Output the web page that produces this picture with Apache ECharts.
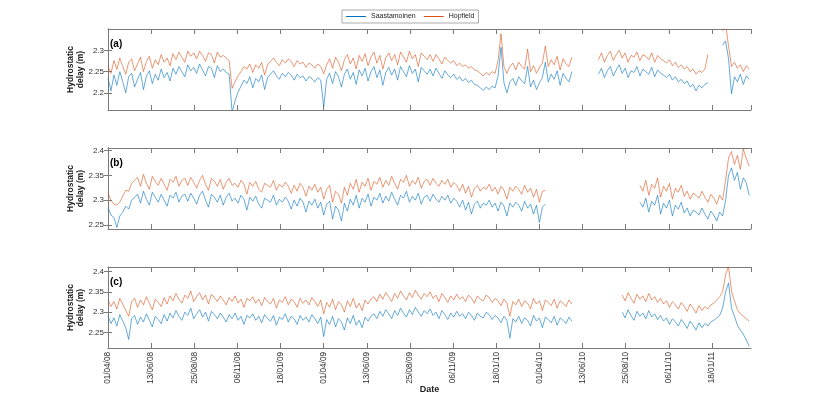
<!DOCTYPE html>
<html>
<head>
<meta charset="utf-8">
<script src="https://cdn.jsdelivr.net/npm/echarts@6/dist/echarts.min.js"></script>
<style>
  html, body { margin: 0; padding: 0; background: #fff; }
  #delayChart { width: 830px; height: 396px; }
</style>
</head>
<body>
<div id="delayChart"></div>
<script>
// one sample every STEP days, starting 01/04/08
const STEP = 5
const DAY_MAX = 1088
const TICK_DAYS = 73

const xTickLabels = ['01/04/08', '13/06/08', '25/08/08', '06/11/08', '18/01/09', '01/04/09', '13/06/09',
  '25/08/09', '06/11/09', '18/01/10', '01/04/10', '13/06/10', '25/08/10', '06/11/10', '18/01/11']
const yTicksA = [2.2, 2.25, 2.3]
const yTicksB = [2.25, 2.3, 2.35, 2.4]
const yTicksC = [2.25, 2.3, 2.35, 2.4]
const panelLabels = ['(a)', '(b)', '(c)']
const seriesNames = ['Saastamoinen', 'Hopfield']

// panel (a)
const saastA = [
  2.235, 2.205, 2.242, 2.218, 2.250, 2.226, 2.200, 2.238, 2.246, 2.214,
  2.232, 2.248, 2.208, 2.240, 2.252, 2.222, 2.244, 2.230, 2.256, 2.236,
  2.248, 2.228, 2.258, 2.244, 2.262, 2.250, 2.238, 2.266, 2.252, 2.260,
  2.246, 2.268, 2.254, 2.240, 2.262, 2.258, 2.236, 2.264, 2.250, 2.256,
  2.248, 2.244, 2.155, 2.182, 2.202, 2.216, 2.230, 2.222, 2.238, 2.212,
  2.234, 2.226, 2.242, 2.208, 2.236, 2.244, 2.252, 2.240, 2.232, 2.246,
  2.238, 2.248, 2.242, 2.230, 2.244, 2.236, 2.240, 2.228, 2.238, 2.234,
  2.226, 2.236, 2.230, 2.168, 2.232, 2.246, 2.222, 2.250, 2.238, 2.214,
  2.244, 2.256, 2.232, 2.248, 2.220, 2.254, 2.240, 2.258, 2.228, 2.250,
  2.262, 2.236, 2.254, 2.218, 2.248, 2.260, 2.242, 2.256, 2.230, 2.262,
  2.250, 2.238, 2.264, 2.246, 2.256, 2.226, 2.260, 2.252, 2.244, 2.256,
  2.240, 2.258, 2.246, 2.234, 2.252, 2.242, 2.236, 2.244, 2.232, 2.238,
  2.228, 2.234, 2.224, 2.230, 2.220, 2.218, 2.212, 2.206, 2.214, 2.208,
  2.216, 2.212, 2.240, 2.307, 2.224, 2.200, 2.226, 2.234, 2.218, 2.238,
  2.228, 2.222, 2.262, 2.214, 2.230, 2.208, 2.224, 2.236, 2.272, 2.226,
  2.244, 2.232, 2.252, 2.218, 2.246, 2.234, 2.226, 2.250, null, null,
  null, null, null, null, null, null, 2.244, 2.258, 2.236, 2.252,
  2.262, 2.240, 2.254, 2.266, 2.246, 2.258, 2.236, 2.252, 2.248, 2.262,
  2.240, 2.256, 2.250, 2.244, 2.260, 2.238, 2.254, 2.246, 2.242, 2.236,
  2.244, 2.230, 2.238, 2.226, 2.232, 2.222, 2.228, 2.214, 2.220, 2.205,
  2.218, 2.212, 2.220, 2.224, null, null, null, null, 2.312, 2.322,
  2.280, 2.198, 2.238, 2.226, 2.244, 2.220, 2.240, 2.232
]
const hopfA = [
  2.262, 2.246, 2.276, 2.255, 2.282, 2.262, 2.244, 2.272, 2.280, 2.252,
  2.268, 2.284, 2.250, 2.274, 2.286, 2.258, 2.278, 2.266, 2.290, 2.272,
  2.282, 2.264, 2.292, 2.278, 2.296, 2.284, 2.272, 2.298, 2.286, 2.294,
  2.280, 2.298, 2.288, 2.274, 2.294, 2.290, 2.270, 2.296, 2.284, 2.288,
  2.282, 2.276, 2.211, 2.226, 2.240, 2.250, 2.262, 2.256, 2.268, 2.248,
  2.266, 2.258, 2.272, 2.242, 2.266, 2.274, 2.282, 2.272, 2.264, 2.278,
  2.270, 2.280, 2.274, 2.262, 2.276, 2.268, 2.272, 2.260, 2.270, 2.266,
  2.258, 2.268, 2.262, 2.245, 2.266, 2.280, 2.258, 2.284, 2.272, 2.252,
  2.278, 2.290, 2.268, 2.282, 2.256, 2.288, 2.274, 2.292, 2.264, 2.284,
  2.296, 2.270, 2.288, 2.256, 2.282, 2.294, 2.276, 2.290, 2.266, 2.296,
  2.284, 2.272, 2.298, 2.280, 2.290, 2.262, 2.294, 2.286, 2.278, 2.290,
  2.274, 2.290, 2.280, 2.268, 2.284, 2.276, 2.270, 2.276, 2.264, 2.270,
  2.262, 2.266, 2.258, 2.262, 2.254, 2.252, 2.246, 2.240, 2.248, 2.242,
  2.250, 2.246, 2.276, 2.339, 2.262, 2.246, 2.262, 2.270, 2.254, 2.272,
  2.262, 2.256, 2.303, 2.250, 2.264, 2.246, 2.260, 2.270, 2.310, 2.262,
  2.278, 2.266, 2.286, 2.254, 2.280, 2.268, 2.262, 2.284, null, null,
  null, null, null, null, null, null, 2.278, 2.294, 2.272, 2.288,
  2.298, 2.276, 2.290, 2.300, 2.282, 2.294, 2.272, 2.288, 2.284, 2.296,
  2.276, 2.290, 2.286, 2.278, 2.294, 2.272, 2.288, 2.280, 2.276, 2.270,
  2.278, 2.264, 2.272, 2.260, 2.266, 2.256, 2.262, 2.250, 2.256, 2.244,
  2.252, 2.248, 2.256, 2.290, null, null, null, null, 2.345, 2.362,
  2.310, 2.262, 2.272, 2.258, 2.266, 2.250, 2.264, 2.256
]

// panel (b)
const saastB = [
  2.285, 2.270, 2.265, 2.245, 2.268, 2.276, 2.288, 2.282, 2.300, 2.306,
  2.312, 2.294, 2.318, 2.302, 2.290, 2.316, 2.306, 2.296, 2.312, 2.300,
  2.288, 2.310, 2.304, 2.316, 2.296, 2.308, 2.312, 2.298, 2.314, 2.304,
  2.292, 2.310, 2.318, 2.300, 2.286, 2.312, 2.306, 2.296, 2.310, 2.290,
  2.306, 2.314, 2.298, 2.304, 2.294, 2.310, 2.302, 2.280, 2.306, 2.298,
  2.308, 2.292, 2.284, 2.304, 2.300, 2.296, 2.310, 2.290, 2.302, 2.296,
  2.306, 2.298, 2.282, 2.300, 2.288, 2.304, 2.296, 2.276, 2.298, 2.290,
  2.302, 2.284, 2.296, 2.270, 2.292, 2.298, 2.262, 2.288, 2.280, 2.258,
  2.294, 2.278, 2.302, 2.290, 2.310, 2.284, 2.304, 2.296, 2.312, 2.288,
  2.306, 2.300, 2.314, 2.294, 2.308, 2.298, 2.316, 2.302, 2.290, 2.310,
  2.304, 2.318, 2.296, 2.308, 2.300, 2.314, 2.292, 2.306, 2.310, 2.298,
  2.312, 2.302, 2.296, 2.308, 2.300, 2.310, 2.294, 2.304, 2.298, 2.286,
  2.300, 2.280, 2.296, 2.272, 2.292, 2.298, 2.284, 2.294, 2.290, 2.300,
  2.286, 2.294, 2.278, 2.296, 2.288, 2.268, 2.294, 2.286, 2.296, 2.290,
  2.278, 2.298, 2.284, 2.292, 2.272, 2.290, 2.255, 2.286, 2.292, null,
  null, null, null, null, null, null, null, null, null, null,
  null, null, null, null, null, null, null, null, null, null,
  null, null, null, null, null, null, null, null, null, null,
  2.296, 2.286, 2.304, 2.276, 2.298, 2.290, 2.310, 2.272, 2.294, 2.284,
  2.300, 2.268, 2.290, 2.282, 2.296, 2.274, 2.284, 2.268, 2.280, 2.276,
  2.270, 2.284, 2.272, 2.262, 2.278, 2.270, 2.258, 2.276, 2.268, 2.300,
  2.350, 2.365, 2.340, 2.356, 2.322, 2.345, 2.335, 2.310
]
const hopfB = [
  2.315, 2.300, 2.292, 2.290, 2.296, 2.308, 2.320, 2.318, 2.334, 2.340,
  2.346, 2.328, 2.352, 2.334, 2.322, 2.348, 2.338, 2.330, 2.344, 2.332,
  2.320, 2.342, 2.336, 2.348, 2.328, 2.340, 2.344, 2.330, 2.346, 2.336,
  2.324, 2.340, 2.350, 2.332, 2.320, 2.344, 2.338, 2.328, 2.342, 2.322,
  2.336, 2.344, 2.330, 2.334, 2.326, 2.340, 2.332, 2.312, 2.336, 2.328,
  2.338, 2.322, 2.316, 2.334, 2.330, 2.326, 2.340, 2.320, 2.332, 2.326,
  2.336, 2.328, 2.314, 2.330, 2.318, 2.334, 2.326, 2.308, 2.328, 2.320,
  2.332, 2.316, 2.326, 2.302, 2.322, 2.330, 2.296, 2.318, 2.312, 2.294,
  2.326, 2.310, 2.334, 2.322, 2.342, 2.316, 2.336, 2.328, 2.344, 2.320,
  2.338, 2.332, 2.346, 2.326, 2.340, 2.330, 2.348, 2.334, 2.322, 2.342,
  2.336, 2.350, 2.328, 2.340, 2.332, 2.346, 2.324, 2.338, 2.342, 2.330,
  2.344, 2.334, 2.328, 2.340, 2.332, 2.342, 2.326, 2.336, 2.330, 2.318,
  2.332, 2.314, 2.328, 2.306, 2.324, 2.330, 2.318, 2.326, 2.322, 2.332,
  2.318, 2.326, 2.312, 2.328, 2.320, 2.302, 2.326, 2.318, 2.328, 2.322,
  2.312, 2.330, 2.316, 2.324, 2.306, 2.322, 2.296, 2.318, 2.320, null,
  null, null, null, null, null, null, null, null, null, null,
  null, null, null, null, null, null, null, null, null, null,
  null, null, null, null, null, null, null, null, null, null,
  2.330, 2.318, 2.340, 2.310, 2.332, 2.324, 2.345, 2.306, 2.328, 2.318,
  2.334, 2.302, 2.324, 2.316, 2.330, 2.308, 2.318, 2.302, 2.314, 2.310,
  2.304, 2.318, 2.306, 2.296, 2.312, 2.304, 2.292, 2.310, 2.300, 2.340,
  2.385, 2.398, 2.372, 2.390, 2.362, 2.403, 2.384, 2.368
]

// panel (c)
const saastC = [
  2.290, 2.272, 2.286, 2.266, 2.294, 2.278, 2.262, 2.233, 2.284, 2.292,
  2.270, 2.288, 2.276, 2.296, 2.280, 2.264, 2.290, 2.282, 2.272, 2.294,
  2.278, 2.298, 2.286, 2.304, 2.290, 2.280, 2.300, 2.292, 2.310, 2.284,
  2.296, 2.306, 2.288, 2.300, 2.278, 2.302, 2.294, 2.284, 2.298, 2.288,
  2.276, 2.294, 2.284, 2.298, 2.280, 2.290, 2.270, 2.292, 2.286, 2.296,
  2.280, 2.290, 2.274, 2.294, 2.284, 2.278, 2.292, 2.268, 2.288, 2.282,
  2.296, 2.276, 2.290, 2.284, 2.270, 2.292, 2.280, 2.288, 2.276, 2.294,
  2.284, 2.272, 2.288, 2.240, 2.282, 2.270, 2.290, 2.264, 2.284, 2.276,
  2.256, 2.286, 2.272, 2.292, 2.268, 2.280, 2.262, 2.288, 2.278, 2.290,
  2.296, 2.284, 2.302, 2.290, 2.306, 2.296, 2.284, 2.304, 2.292, 2.310,
  2.298, 2.288, 2.306, 2.294, 2.312, 2.300, 2.290, 2.304, 2.296, 2.308,
  2.292, 2.300, 2.284, 2.304, 2.294, 2.282, 2.298, 2.288, 2.302, 2.290,
  2.296, 2.284, 2.300, 2.292, 2.280, 2.298, 2.290, 2.286, 2.300, 2.294,
  2.282, 2.292, 2.286, 2.274, 2.290, 2.280, 2.236, 2.284, 2.276, 2.290,
  2.272, 2.286, 2.280, 2.266, 2.292, 2.278, 2.286, 2.262, 2.288, 2.282,
  2.274, 2.290, 2.268, 2.286, 2.280, 2.272, 2.288, 2.278, null, null,
  null, null, null, null, null, null, null, null, null, null,
  null, null, null, null, 2.300, 2.286, 2.306, 2.292, 2.280, 2.302,
  2.290, 2.298, 2.284, 2.304, 2.288, 2.296, 2.282, 2.292, 2.278, 2.286,
  2.270, 2.284, 2.276, 2.266, 2.282, 2.272, 2.260, 2.278, 2.268, 2.256,
  2.274, 2.262, 2.272, 2.266, 2.276, 2.280, 2.286, 2.292, 2.310, 2.350,
  2.372, 2.310, 2.290, 2.268, 2.256, 2.246, 2.232, 2.216
]
const hopfC = [
  2.330, 2.314, 2.326, 2.308, 2.334, 2.320, 2.304, 2.290, 2.326, 2.334,
  2.312, 2.330, 2.318, 2.338, 2.322, 2.306, 2.332, 2.324, 2.314, 2.336,
  2.320, 2.340, 2.328, 2.346, 2.332, 2.322, 2.342, 2.334, 2.352, 2.326,
  2.338, 2.348, 2.330, 2.342, 2.320, 2.344, 2.336, 2.326, 2.340, 2.330,
  2.318, 2.336, 2.326, 2.340, 2.322, 2.332, 2.312, 2.334, 2.328, 2.338,
  2.322, 2.332, 2.316, 2.336, 2.326, 2.320, 2.334, 2.310, 2.330, 2.324,
  2.338, 2.318, 2.332, 2.326, 2.312, 2.334, 2.322, 2.330, 2.318, 2.336,
  2.326, 2.314, 2.330, 2.296, 2.324, 2.312, 2.332, 2.306, 2.326, 2.318,
  2.300, 2.328, 2.314, 2.334, 2.310, 2.322, 2.304, 2.330, 2.320, 2.332,
  2.338, 2.326, 2.344, 2.332, 2.348, 2.338, 2.326, 2.346, 2.334, 2.352,
  2.340, 2.330, 2.348, 2.336, 2.354, 2.342, 2.332, 2.346, 2.338, 2.350,
  2.334, 2.342, 2.326, 2.346, 2.336, 2.324, 2.340, 2.330, 2.344, 2.332,
  2.338, 2.326, 2.342, 2.334, 2.322, 2.340, 2.332, 2.328, 2.342, 2.336,
  2.324, 2.334, 2.328, 2.316, 2.332, 2.322, 2.290, 2.326, 2.318, 2.332,
  2.314, 2.328, 2.322, 2.308, 2.334, 2.320, 2.328, 2.304, 2.330, 2.324,
  2.316, 2.332, 2.310, 2.328, 2.322, 2.314, 2.330, 2.320, null, null,
  null, null, null, null, null, null, null, null, null, null,
  null, null, null, null, 2.342, 2.328, 2.348, 2.334, 2.322, 2.344,
  2.332, 2.340, 2.326, 2.346, 2.330, 2.338, 2.324, 2.334, 2.320, 2.328,
  2.312, 2.326, 2.318, 2.308, 2.324, 2.314, 2.302, 2.320, 2.310, 2.298,
  2.316, 2.304, 2.314, 2.308, 2.318, 2.322, 2.330, 2.338, 2.350, 2.392,
  2.412, 2.352, 2.328, 2.306, 2.296, 2.290, 2.284, 2.278
]

const yRanges = [[2.16, 2.35], [2.242, 2.405], [2.212, 2.411]]
const yTicks = [yTicksA, yTicksB, yTicksC]
const gridTops = [29, 148, 267]
const BLUE = '#0072BD'
const ORANGE = '#D95319'
const AXIS_GRAY = '#7a7a7a'

function toPoints (arr) {
  return arr.map((v, i) => [i * STEP, v])
}

let grids = []
let xAxes = []
let yAxes = []
let graphics = []
const panels = [[saastA, hopfA], [saastB, hopfB], [saastC, hopfC]]
let series = []

panels.forEach((pair, p) => {
  grids.push({ left: 108, right: 79, top: gridTops[p], height: 81 })
  const isLast = p === panels.length - 1
  const xBase = {
    type: 'value', gridIndex: p, min: 0, max: DAY_MAX, interval: TICK_DAYS,
    axisLine: { show: true, lineStyle: { color: AXIS_GRAY, width: 1 } },
    axisTick: { show: true, inside: true, length: 5, lineStyle: { color: AXIS_GRAY } },
    splitLine: { show: false }
  }
  xAxes.push(Object.assign({}, xBase, {
    position: 'bottom',
    name: isLast ? 'Date' : '',
    nameLocation: 'middle',
    nameGap: 37,
    nameMoveOverlap: false,
    nameTextStyle: { fontWeight: 'bold', fontSize: 9, color: '#222' },
    axisLabel: {
      show: isLast, rotate: 90, fontSize: 8.2, color: '#333', margin: 4,
      showMaxLabel: false,
      formatter: v => xTickLabels[Math.round(v / TICK_DAYS)] || ''
    }
  }))
  xAxes.push(Object.assign({}, xBase, { position: 'top', axisLabel: { show: false } }))

  const yBase = {
    type: 'value', gridIndex: p, min: yRanges[p][0], max: yRanges[p][1],
    axisLine: { show: true, lineStyle: { color: AXIS_GRAY, width: 1 } },
    axisTick: { show: true, inside: true, length: 4, customValues: yTicks[p], lineStyle: { color: AXIS_GRAY } },
    splitLine: { show: false }
  }
  yAxes.push(Object.assign({}, yBase, {
    position: 'left',
    name: 'Hydrostatic\ndelay (m)',
    nameLocation: 'middle',
    nameGap: 22,
    nameMoveOverlap: false,
    nameTextStyle: { fontWeight: 'bold', fontSize: 8.5, color: '#222', lineHeight: 10 },
    axisLabel: { fontSize: 8, color: '#333', margin: 4, customValues: yTicks[p] }
  }))
  yAxes.push(Object.assign({}, yBase, { position: 'right', axisLabel: { show: false } }))

  const colors = [BLUE, ORANGE]
  pair.forEach((arr, k) => {
    series.push({
      name: seriesNames[k],
      type: 'line',
      xAxisIndex: 2 * p,
      yAxisIndex: 2 * p,
      data: toPoints(arr),
      showSymbol: false,
      connectNulls: false,
      lineStyle: { width: 0.6, color: colors[k] },
      itemStyle: { color: colors[k] }
    })
  })

  graphics.push({
    type: 'text', left: 110, top: gridTops[p] + 10,
    style: { text: panelLabels[p], font: 'bold 10px "Liberation Sans", Arial', fill: '#000' }
  })
})

let option = {
  animation: false,
  textStyle: { fontFamily: '"Liberation Sans", Arial, sans-serif' },
  legend: {
    data: seriesNames,
    left: 342,
    top: 10,
    icon: 'rect',
    itemWidth: 20,
    itemHeight: 1,
    itemGap: 8,
    padding: [3, 4],
    borderColor: '#888',
    borderWidth: 0.7,
    textStyle: { fontSize: 7, color: '#222' }
  },
  grid: grids,
  xAxis: xAxes,
  yAxis: yAxes,
  graphic: graphics,
  series: series
}

let delayChart = echarts.init(document.getElementById('delayChart'))
delayChart.setOption(option)
</script>
</body>
</html>
